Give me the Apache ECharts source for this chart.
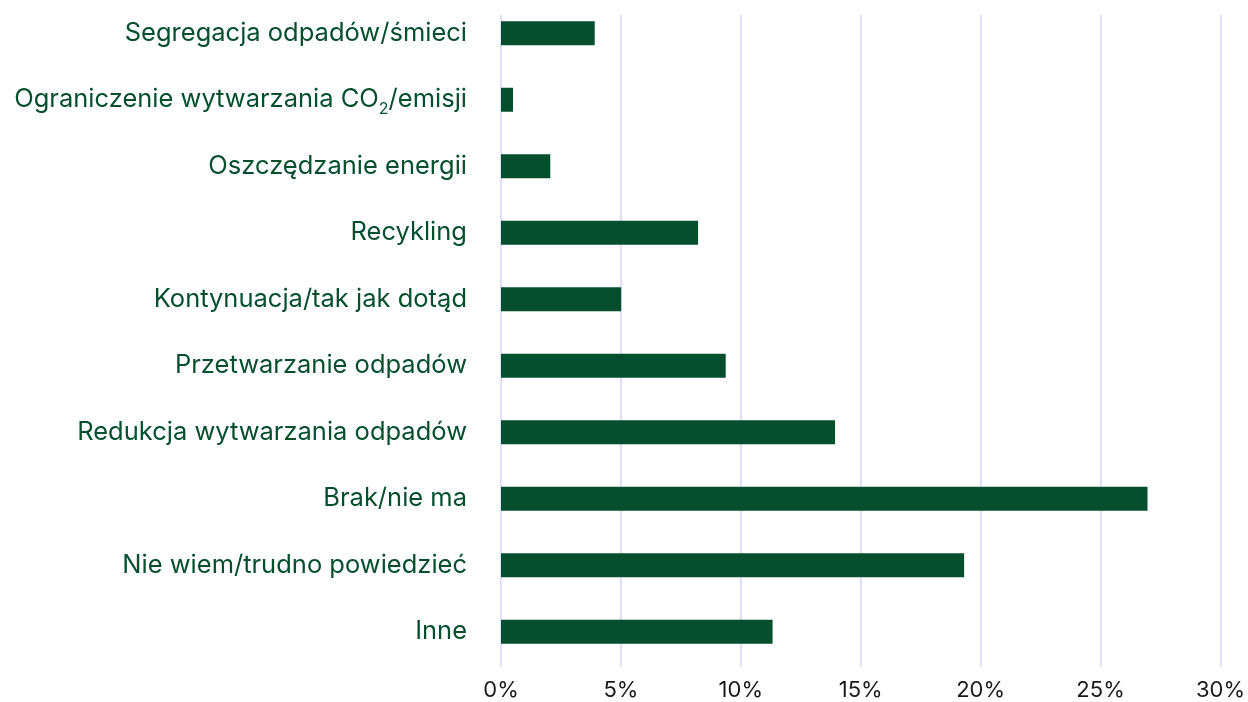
<!DOCTYPE html>
<html><head><meta charset="utf-8">
<script src="https://cdn.jsdelivr.net/npm/echarts@6/dist/echarts.min.js"></script>
<style>html,body{margin:0;padding:0;background:#fff}#c{width:1248px;height:702px}</style>
</head><body><div id="c"></div>
<script>
const categories = [
  "Segregacja odpadów/śmieci",
  "Ograniczenie wytwarzania CO2/emisji",
  "Oszczędzanie energii",
  "Recykling",
  "Kontynuacja/tak jak dotąd",
  "Przetwarzanie odpadów",
  "Redukcja wytwarzania odpadów",
  "Brak/nie ma",
  "Nie wiem/trudno powiedzieć",
  "Inne"
];
const values = [3.9, 0.5, 2.05, 8.2, 5.0, 9.35, 13.9, 26.9, 19.27, 11.3];
const xTicks = [0, 5, 10, 15, 20, 25, 30];

const chart = echarts.init(document.getElementById('c'));
const green = '#054f2e';
const font = 'Inter';
chart.setOption({
  animation: false,
  grid: [
    {left: 501, right: 26, top: -1, bottom: 37},
    {left: 501, right: 26, top: 15, bottom: 35}
  ],
  xAxis: [
    {gridIndex: 0, type: 'value', min: 0, max: 30, interval: 5,
     axisLine: {show: false}, axisTick: {show: false}, splitLine: {show: false},
     axisLabel: {show: false}},
    {gridIndex: 1, type: 'value', min: xTicks[0], max: xTicks[xTicks.length-1], interval: 5,
     axisLine: {show: false}, axisTick: {show: false},
     splitLine: {show: true, lineStyle: {color: '#d6d2f6', width: 1.5}},
     axisLabel: {color: '#1a1a1a', fontFamily: font, fontSize: 22, margin: 12,
       formatter: v => v + '%'}}
  ],
  yAxis: [
    {gridIndex: 0, type: 'category', inverse: true, data: categories,
     axisLine: {show: false}, axisTick: {show: false},
     axisLabel: {color: green, fontFamily: font, fontSize: 25.5, margin: 34,
       formatter: function (v) {
         if (v.indexOf('CO2') >= 0) {
           const p = v.split('CO2');
           return '{t|' + p[0] + 'CO}{s|2}{t|' + p[1] + '}';
         }
         return '{t|' + v + '}';
       },
       rich: {
         t: {color: green, fontFamily: font, fontSize: 25.5, lineHeight: 34, verticalAlign: 'middle'},
         s: {color: green, fontFamily: font, fontSize: 16, lineHeight: 16, verticalAlign: 'bottom'}
       }}},
    {gridIndex: 1, type: 'category', data: [''], show: false}
  ],
  series: [{
    type: 'bar', xAxisIndex: 0, yAxisIndex: 0, data: values,
    barWidth: 24, itemStyle: {color: green}
  }]
});
</script></body></html>
